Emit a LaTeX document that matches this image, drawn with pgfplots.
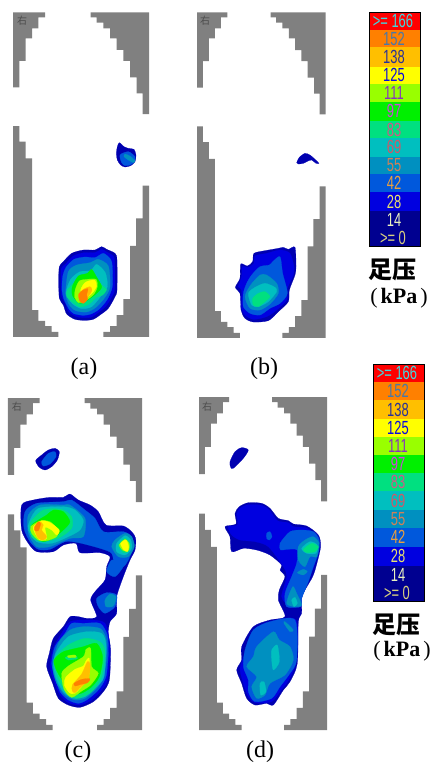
\documentclass[border=0pt]{standalone}
\usepackage{fontspec}
\usepackage{pgfplots}
\pgfplotsset{compat=1.18}
\setmainfont{Liberation Serif}
\newfontfamily\cjk{Noto Sans CJK SC}
\newfontfamily\lsans{Liberation Sans}
% level colours
\definecolor{L0}{HTML}{000090}
\definecolor{L1}{HTML}{0000B0}
\definecolor{L2}{HTML}{0000E0}
\definecolor{L3}{HTML}{0058DC}
\definecolor{L4}{HTML}{0090C0}
\definecolor{L5}{HTML}{00BFBF}
\definecolor{L6}{HTML}{00E080}
\definecolor{L7}{HTML}{00F000}
\definecolor{L8}{HTML}{99FF00}
\definecolor{L9}{HTML}{FFFF00}
\definecolor{L10}{HTML}{FFBF00}
\definecolor{L11}{HTML}{FF8000}
\definecolor{L12}{HTML}{FF0000}
\definecolor{cgray}{HTML}{808080}
\newcommand{\lv}[2]{\addplot[fill=#1,draw=#1,line width=0.2pt,smooth cycle,tension=0.45] coordinates {#2};}
\newcommand{\band}[5]{\addplot[fill=#5,draw=none] coordinates {(#1,#3) (#2,#3) (#2,#4) (#1,#4)} -- cycle;}
\newcommand{\grayaxis}[4]{%
\begin{axis}[at={(#1pt,-#2pt)},anchor=north west,width=#3pt,height=#4pt,scale only axis,hide axis,y dir=reverse,xmin=39,xmax=447,ymin=37,ymax=1010,clip=false]
\addplot[fill=cgray,draw=none] coordinates {(39,37)(135,37)(135,52)(115,52)(115,85)(96,85)(96,115)(77,115)(77,183)(58,183)(58,262)(39,262)} -- cycle;
\addplot[fill=cgray,draw=none] coordinates {(272,37)(447,37)(447,342)(428,342)(428,280)(410,280)(410,232)(390,232)(390,183)(370,183)(370,150)(350,150)(350,115)(330,115)(330,85)(310,85)(310,68)(290,68)(290,52)(272,52)} -- cycle;
\addplot[fill=cgray,draw=none] coordinates {(39,378)(58,378)(58,425)(77,425)(77,475)(96,475)(96,930)(115,930)(115,962)(135,962)(135,978)(155,978)(155,995)(175,995)(175,1010)(39,1010)} -- cycle;
\addplot[fill=cgray,draw=none] coordinates {(447,557)(428,557)(428,655)(408,655)(408,737)(390,737)(390,897)(370,897)(370,945)(350,945)(350,978)(330,978)(330,995)(310,995)(310,1010)(447,1010)} -- cycle;
\end{axis}}
\pgfplotsset{blob/.style={anchor=north west,width=150pt,scale only axis,hide axis,y dir=reverse,xmin=0,xmax=450,ymin=0,clip=false}}
\begin{document}
\begin{tikzpicture}[x=1pt,y=1pt]
\path[use as bounding box] (0,0) rectangle (433,-763);
\grayaxis{13}{12.3}{136}{324.5}
\grayaxis{197}{12.3}{128.7}{325.5}
\grayaxis{8}{398}{134}{332}
\grayaxis{199}{397}{128}{333}
% ---------- panel a
\begin{axis}[blob,at={(0pt,0pt)},height=390pt,ymax=1170]
\lv{L1}{(358,428)(372,440)(385,445)(402,448)(408,465)(405,485)(392,497)(375,501)(362,495)(352,480)(349,460)(352,440)}
\lv{L3}{(360,465)(385,455)(405,470)(403,485)(390,495)(375,497)(365,488)}
\lv{L4}{(375,462)(390,468)(405,482)(400,488)(385,480)(372,470)}
\lv{L1}{(178,800)(190,785)(215,760)(250,750)(285,750)(305,740)(320,748)(345,760)(351,780)(351,870)(345,890)(325,925)(300,945)(280,958)(255,961)(225,958)(200,942)(190,915)(178,895)(176,840)}
\lv{L2}{(184,805)(197,792)(220,768)(252,758)(285,758)(305,748)(320,756)(340,768)(344,787)(344,866)(338,886)(318,918)(294,938)(275,951)(255,953)(230,950)(206,935)(196,910)(185,890)(183,840)}
\lv{L3}{(188,830)(198,802)(222,778)(255,771)(285,773)(310,760)(332,778)(337,800)(337,860)(322,898)(298,927)(273,942)(250,946)(222,941)(207,927)(192,898)(186,870)}
\lv{L4}{(205,815)(230,795)(270,788)(295,778)(325,798)(330,860)(315,892)(288,922)(260,936)(227,932)(207,913)(197,880)}
\lv{L5}{(212,838)(240,815)(272,812)(290,793)(316,818)(322,860)(303,888)(275,920)(245,926)(217,911)(198,880)}
\lv{L6}{(202,870)(222,848)(245,830)(280,825)(305,855)(320,868)(308,885)(288,893)(268,912)(240,921)(216,906)(200,888)}
\lv{L7}{(217,860)(235,828)(262,820)(275,808)(288,828)(305,860)(292,878)(268,897)(240,910)(218,888)}
\lv{L8}{(226,868)(238,843)(260,838)(288,838)(292,860)(282,882)(260,900)(236,908)(224,892)}
\lv{L9}{(242,870)(256,847)(283,840)(290,858)(278,878)(262,892)(246,902)}
\lv{L10}{(236,885)(250,868)(270,860)(276,870)(266,888)(250,903)(239,900)}
\lv{L11}{(236,882)(250,870)(264,866)(260,885)(263,898)(250,910)(239,903)}
\end{axis}
% ---------- panel b
\begin{axis}[blob,at={(180pt,0pt)},height=390pt,ymax=1170]
\lv{L1}{(350,488)(358,472)(375,460)(390,465)(405,478)(417,490)(408,490)(395,480)(382,484)(370,490)(355,492)}
\lv{L1}{(222,760)(255,752)(295,745)(310,742)(325,748)(345,742)(348,800)(345,825)(328,870)(325,905)(295,935)(265,962)(220,966)(195,955)(183,930)(180,880)(166,862)(180,835)(182,792)(202,798)(218,785)}
\lv{L2}{(225,768)(260,760)(300,750)(330,760)(342,800)(340,825)(322,865)(320,900)(290,930)(260,950)(220,958)(195,945)(185,925)(185,870)(175,860)(185,830)(187,800)(205,802)(222,790)}
\lv{L3}{(215,825)(240,800)(268,795)(278,785)(300,770)(308,820)(322,880)(300,910)(270,925)(240,945)(210,940)(190,920)(190,880)(200,850)}
\lv{L4}{(240,825)(260,825)(290,850)(295,880)(270,912)(240,930)(210,925)(195,890)(212,855)}
\lv{L5}{(205,880)(225,862)(255,850)(285,862)(290,875)(265,905)(235,920)(215,915)}
\lv{L6}{(218,895)(235,880)(255,875)(270,890)(255,905)(235,920)(220,915)}
\end{axis}
% ---------- panel c
\begin{axis}[blob,at={(0pt,-390pt)},height=373pt,ymax=1119]
\lv{L1}{(107,212)(125,195)(145,180)(165,175)(178,185)(172,210)(155,230)(135,240)(118,232)}
\lv{L3}{(125,215)(145,190)(165,185)(168,200)(150,222)(130,228)}
\lv{L1}{(65,345)(100,330)(150,322)(190,322)(210,312)(235,330)(270,345)(295,365)(318,405)(370,408)(395,425)(407,445)(405,480)(390,510)(370,560)(350,620)(350,670)(330,695)(325,730)(332,780)(328,870)(310,905)(280,935)(240,952)(205,945)(175,925)(158,880)(140,830)(148,790)(160,745)(190,710)(210,680)(235,680)(260,685)(290,680)(272,630)(285,605)(315,570)(320,530)(330,500)(300,488)(240,488)(228,460)(190,465)(160,485)(110,485)(85,460)(65,420)}
\lv{L3}{(75,365)(110,340)(190,335)(215,330)(255,360)(285,385)(310,425)(370,425)(395,440)(400,470)(385,510)(370,530)(345,530)(335,490)(300,475)(235,458)(195,455)(150,478)(115,478)(90,455)(72,415)}
\lv{L4}{(85,375)(120,345)(190,345)(210,345)(255,385)(250,440)(210,445)(150,470)(110,470)(85,430)}
\lv{L5}{(88,395)(115,355)(190,350)(225,360)(250,390)(240,420)(205,440)(155,460)(110,455)(85,420)}
\lv{L6}{(90,400)(130,360)(185,358)(215,380)(215,415)(175,445)(125,455)(95,440)}
\lv{L7}{(95,405)(140,375)(160,360)(190,365)(210,395)(190,420)(165,440)(130,455)(100,435)}
\lv{L8}{(92,410)(120,393)(150,395)(175,420)(170,440)(140,452)(115,450)(95,430)}
\lv{L9}{(100,410)(125,392)(150,398)(178,420)(170,435)(155,420)(135,412)(140,445)(120,450)(105,430)}
\lv{L10}{(105,420)(118,395)(130,405)(125,420)(140,440)(130,450)(115,445)}
\lv{L11}{(103,412)(115,395)(122,402)(115,422)(105,422)}
\lv{L4}{(345,450)(375,430)(395,440)(403,470)(385,500)(355,500)(335,470)}
\lv{L5}{(350,460)(375,437)(392,450)(395,475)(375,495)(350,485)}
\lv{L6}{(355,465)(375,445)(390,460)(388,482)(370,488)}
\lv{L8}{(358,465)(375,448)(388,462)(385,482)(370,482)}
\lv{L9}{(362,460)(378,450)(386,470)(382,485)(370,478)}
\lv{L3}{(335,510)(365,520)(370,530)(345,560)(320,545)}
\lv{L3}{(290,625)(320,608)(350,615)(345,650)(315,670)(295,650)}
\lv{L4}{(315,630)(330,612)(348,620)(340,648)(318,650)}
\lv{L2}{(160,775)(185,730)(210,695)(260,690)(315,700)(330,780)(322,870)(305,900)(275,930)(240,945)(205,938)(180,915)(165,880)(150,830)}
\lv{L3}{(165,770)(195,730)(215,700)(250,700)(300,700)(322,735)(325,790)(318,860)(295,900)(260,930)(235,940)(205,930)(180,905)(165,860)(155,820)}
\lv{L4}{(175,760)(210,720)(250,710)(300,715)(318,745)(320,800)(310,860)(290,895)(255,925)(225,930)(195,915)(170,880)(158,830)}
\lv{L5}{(170,785)(205,740)(260,725)(305,730)(318,765)(312,860)(290,890)(255,920)(220,925)(190,905)(168,865)(160,820)}
\lv{L6}{(165,805)(205,765)(255,745)(300,755)(315,785)(305,860)(275,905)(230,925)(195,900)(172,860)}
\lv{L7}{(162,810)(190,785)(250,770)(290,760)(308,800)(298,860)(272,893)(235,912)(200,888)(180,860)(167,835)}
\lv{L8}{(185,850)(205,828)(250,800)(258,778)(272,775)(275,830)(295,850)(272,885)(245,903)(215,922)(192,898)}
\lv{L6}{(196,802)(225,795)(232,806)(205,810)}
\lv{L8}{(203,797)(225,795)(228,802)(206,803)}
\lv{L9}{(197,862)(225,838)(250,828)(258,812)(268,805)(268,850)(255,878)(225,910)(208,908)(193,885)}
\lv{L10}{(217,885)(245,852)(262,815)(270,822)(266,868)(240,893)(225,908)(217,903)}
\lv{L11}{(222,880)(245,868)(270,866)(263,878)(240,884)(226,888)}
\end{axis}
% ---------- panel d
\begin{axis}[blob,at={(190pt,-390pt)},height=373pt,ymax=1119]
\lv{L1}{(120,215)(135,185)(155,173)(175,180)(160,205)(130,235)(122,232)}
\lv{L1}{(148,350)(175,338)(215,340)(240,355)(265,385)(295,392)(310,402)(350,408)(385,435)(392,470)(378,530)(368,560)(345,600)(335,625)(335,670)(325,695)(322,820)(300,875)(280,900)(250,945)(230,940)(195,945)(170,925)(155,880)(140,840)(155,810)(155,770)(190,710)(240,690)(285,680)(265,630)(268,600)(285,560)(270,540)(275,525)(240,495)(200,480)(160,475)(125,485)(120,440)(105,410)(138,402)(135,370)}
\lv{L2}{(150,355)(175,344)(215,346)(238,360)(262,392)(295,398)(310,410)(350,414)(380,440)(385,470)(372,530)(340,600)(328,640)(300,650)(275,620)(290,560)(280,530)(235,470)(195,455)(150,450)(125,435)(115,410)(143,405)(140,372)}
\lv{L2}{(165,790)(190,720)(240,695)(318,690)(318,815)(295,872)(275,898)(245,935)(195,938)(175,920)(160,880)(150,835)}
\lv{L3}{(270,460)(300,425)(335,420)(370,425)(388,450)(385,490)(370,530)(355,575)(335,625)(332,650)(290,650)(285,610)(305,560)(320,520)(322,480)(290,478)(272,480)}
\lv{L3}{(230,430)(240,425)(246,440)(238,450)(230,445)}
\lv{L4}{(325,470)(345,450)(370,440)(387,460)(380,500)(360,500)(345,530)(325,510)}
\lv{L4}{(322,548)(340,538)(352,545)(340,555)}
\lv{L4}{(290,640)(308,590)(320,610)(335,645)(315,650)}
\lv{L5}{(335,475)(360,455)(382,465)(378,490)(350,490)}
\lv{L6}{(340,478)(365,460)(385,470)(375,485)(350,488)}
\lv{L5}{(305,630)(315,622)(322,640)(312,650)}
\lv{L3}{(190,720)(240,695)(315,690)(320,810)(300,850)(270,890)(245,925)(195,935)(175,905)(175,870)(160,830)(165,780)}
\lv{L4}{(200,770)(250,725)(268,750)(300,770)(310,810)(285,855)(240,880)(225,915)(200,925)(185,890)(200,860)(170,830)(190,800)}
\lv{L4}{(285,695)(310,720)(300,725)(282,700)}
\lv{L5}{(245,780)(262,765)(268,815)(250,840)(245,810)}
\lv{L5}{(210,880)(222,875)(228,905)(212,915)}
\end{axis}
% ---------- colour bars and texts, in pixels of the page
\begin{axis}[at={(0pt,0pt)},anchor=north west,width=433pt,height=763pt,scale only axis,hide axis,y dir=reverse,xmin=0,xmax=433,ymin=0,ymax=763,clip=false]
\band{369}{420.7}{12.3}{30}{L12}
\band{369}{420.7}{30}{47.3}{L11}
\band{369}{420.7}{47.3}{66.7}{L10}
\band{369}{420.7}{66.7}{84.3}{L9}
\band{369}{420.7}{84.3}{102.3}{L8}
\band{369}{420.7}{102.3}{120.7}{L7}
\band{369}{420.7}{120.7}{138.3}{L6}
\band{369}{420.7}{138.3}{156.7}{L5}
\band{369}{420.7}{156.7}{174}{L4}
\band{369}{420.7}{174}{192.3}{L3}
\band{369}{420.7}{192.3}{210.7}{L2}
\band{369}{420.7}{210.7}{229.3}{L0}
\band{369}{420.7}{229.3}{246.7}{L0}
\addplot[draw=black,line width=0.8pt] coordinates {(369,12.3)(420.7,12.3)(420.7,246.7)(369,246.7)} -- cycle;
\band{373.3}{424.7}{364.3}{381.7}{L12}
\band{373.3}{424.7}{381.7}{400}{L11}
\band{373.3}{424.7}{400}{419}{L10}
\band{373.3}{424.7}{419}{436.7}{L9}
\band{373.3}{424.7}{436.7}{455}{L8}
\band{373.3}{424.7}{455}{473.3}{L7}
\band{373.3}{424.7}{473.3}{491}{L6}
\band{373.3}{424.7}{491}{510}{L5}
\band{373.3}{424.7}{510}{528.3}{L4}
\band{373.3}{424.7}{528.3}{546.7}{L3}
\band{373.3}{424.7}{546.7}{565.7}{L2}
\band{373.3}{424.7}{565.7}{583.7}{L0}
\band{373.3}{424.7}{583.7}{601.7}{L0}
\addplot[draw=black,line width=0.8pt] coordinates {(373.3,364.3)(424.7,364.3)(424.7,601.7)(373.3,601.7)} -- cycle;
\newcommand{\bl}[4]{\node[inner sep=0pt,text=#4] at (axis cs:#1,#2) {\lsans\fontsize{19}{19}\selectfont\scalebox{.68}[1]{#3}};}
\definecolor{t0}{HTML}{40D8E0}\definecolor{t1}{HTML}{4878A8}\definecolor{t2}{HTML}{283098}\definecolor{t3}{HTML}{0808E0}
\definecolor{t4}{HTML}{8830C0}\definecolor{t5}{HTML}{D040E0}\definecolor{t6}{HTML}{D05888}\definecolor{t7}{HTML}{D05868}
\definecolor{t8}{HTML}{D08058}\definecolor{t9}{HTML}{E8A040}\definecolor{t10}{HTML}{E8E070}\definecolor{t11}{HTML}{E8F0C0}\definecolor{t12}{HTML}{D8D080}
\bl{393}{20.5}{>= 166}{t0}\bl{394}{38.5}{152}{t1}\bl{394}{57}{138}{t2}\bl{394}{75}{125}{t3}
\bl{394}{93}{111}{t4}\bl{394}{111}{97}{t5}\bl{394}{129.5}{83}{t6}\bl{394}{147}{69}{t7}
\bl{394}{165}{55}{t8}\bl{394}{183}{42}{t9}\bl{394}{201.5}{28}{t10}\bl{394}{220}{14}{t11}\bl{393}{238}{>= 0}{t12}
\bl{397}{372.5}{>= 166}{t0}\bl{398}{390.5}{152}{t1}\bl{398}{409.5}{138}{t2}\bl{398}{427.5}{125}{t3}
\bl{398}{445.5}{111}{t4}\bl{398}{464}{97}{t5}\bl{398}{482}{83}{t6}\bl{398}{500.5}{69}{t7}
\bl{398}{519}{55}{t8}\bl{398}{537}{42}{t9}\bl{398}{556}{28}{t10}\bl{398}{574.5}{14}{t11}\bl{397}{592.5}{>= 0}{t12}
\node[inner sep=0pt,font=\fontsize{24}{24}\selectfont\cjk\bfseries] at (axis cs:392,270) {足压};
\node[inner sep=0pt,font=\fontsize{24}{24}\selectfont\cjk\bfseries] at (axis cs:396,625) {足压};
\node[inner sep=0pt,font=\fontsize{22}{22}\selectfont] at (axis cs:399,298) {(\hspace{3pt}\textbf{kPa}\hspace{3pt})};
\node[inner sep=0pt,font=\fontsize{22}{22}\selectfont] at (axis cs:402,651) {(\hspace{3pt}\textbf{kPa}\hspace{3pt})};
\node[inner sep=0pt,font=\fontsize{24}{24}\selectfont] at (axis cs:84,369) {(a)};
\node[inner sep=0pt,font=\fontsize{24}{24}\selectfont] at (axis cs:264,369) {(b)};
\node[inner sep=0pt,font=\fontsize{24}{24}\selectfont] at (axis cs:78,752) {(c)};
\node[inner sep=0pt,font=\fontsize{24}{24}\selectfont] at (axis cs:260,752) {(d)};
\node[inner sep=0pt,text=black!70,font=\fontsize{10}{10}\selectfont\cjk] at (axis cs:22,21) {右};
\node[inner sep=0pt,text=black!70,font=\fontsize{10}{10}\selectfont\cjk] at (axis cs:205,21) {右};
\node[inner sep=0pt,text=black!70,font=\fontsize{10}{10}\selectfont\cjk] at (axis cs:17,407) {右};
\node[inner sep=0pt,text=black!70,font=\fontsize{10}{10}\selectfont\cjk] at (axis cs:207,407) {右};
\end{axis}
\end{tikzpicture}
\end{document}
